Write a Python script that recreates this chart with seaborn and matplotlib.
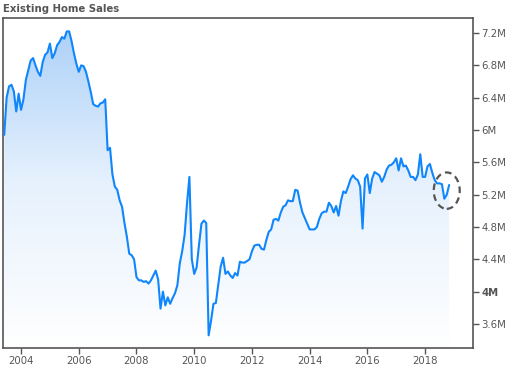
import numpy as np
import pandas as pd
import seaborn as sns
import matplotlib.pyplot as plt
from matplotlib.patches import Ellipse
from matplotlib.colors import LinearSegmentedColormap

# monthly existing home sales (millions, SAAR), Jun 2003 - Nov 2018
sales = [
    5.94, 6.40, 6.54, 6.56, 6.48, 6.23, 6.45, 6.25, 6.38, 6.62,
    6.74, 6.86, 6.89, 6.80, 6.72, 6.67, 6.84, 6.93, 6.96, 7.07,
    6.89, 6.95, 7.05, 7.09, 7.15, 7.13, 7.22, 7.22, 7.10, 6.95,
    6.82, 6.72, 6.80, 6.79, 6.72, 6.60, 6.47, 6.32, 6.30, 6.29,
    6.33, 6.34, 6.38, 5.75, 5.78, 5.45, 5.30, 5.26, 5.13, 5.05,
    4.85, 4.68, 4.47, 4.45, 4.40, 4.18, 4.14, 4.14, 4.12, 4.13,
    4.10, 4.14, 4.20, 4.26, 4.15, 3.79, 4.00, 3.83, 3.93, 3.85,
    3.92, 3.98, 4.08, 4.35, 4.50, 4.70, 5.09, 5.42, 4.40, 4.22,
    4.30, 4.58, 4.84, 4.88, 4.85, 3.46, 3.64, 3.85, 3.86, 4.08,
    4.31, 4.42, 4.22, 4.25, 4.20, 4.17, 4.23, 4.20, 4.37, 4.36,
    4.36, 4.38, 4.40, 4.50, 4.57, 4.58, 4.58, 4.53, 4.52, 4.64,
    4.74, 4.77, 4.89, 4.90, 4.88, 4.98, 5.05, 5.07, 5.13, 5.12,
    5.12, 5.26, 5.25, 5.10, 4.98, 4.91, 4.84, 4.77, 4.77, 4.77,
    4.80, 4.90, 4.97, 4.99, 4.99, 5.10, 5.06, 4.98, 5.06, 4.94,
    5.12, 5.24, 5.22, 5.30, 5.39, 5.44, 5.40, 5.38, 5.30, 4.78,
    5.40, 5.45, 5.22, 5.40, 5.48, 5.46, 5.44, 5.36, 5.42, 5.51,
    5.56, 5.57, 5.60, 5.65, 5.50, 5.65, 5.55, 5.56, 5.50, 5.42,
    5.42, 5.38, 5.45, 5.70, 5.42, 5.42, 5.55, 5.58, 5.47, 5.38,
    5.34, 5.34, 5.33, 5.15, 5.20, 5.32,
]
start_year, start_month = 2003, 6
years = [2004, 2006, 2008, 2010, 2012, 2014, 2016, 2018]
yticks = [3.6, 4.0, 4.4, 4.8, 5.2, 5.6, 6.0, 6.4, 6.8, 7.2]

t = start_year + (start_month - 1) / 12 + np.arange(len(sales)) / 12
df = pd.DataFrame({"t": t, "sales": sales})

sns.set_style("white")
plt.rcParams['font.family'] = ['DejaVu Sans']

fig = plt.figure(figsize=(5.09, 3.66), dpi=100)
ax = fig.add_axes([3 / 509, 1 - 348 / 366, 470 / 509, 330 / 366])

ylo, yhi = 3.303, 7.386
xlo, xhi = t[0] - 0.042, 2019.66

# gradient fill under the line
cmap = LinearSegmentedColormap.from_list("fade", ["#ffffff", "#e6f1fd", "#a9cff8"])
grad = np.linspace(0, 1, 256).reshape(-1, 1)
poly = ax.fill_between(df["t"], df["sales"], ylo, color="none", lw=0)
img = ax.imshow(grad, cmap=cmap, aspect="auto", origin="lower",
                extent=[xlo, xhi, ylo, yhi], zorder=1)
img.set_clip_path(poly.get_paths()[0], transform=ax.transData)

sns.lineplot(data=df, x="t", y="sales", ax=ax, color="#0f86fb", lw=1.5, zorder=3)

# dashed ellipse round the latest readings
cx = df["t"].iloc[-2]
cy = df["sales"].iloc[-4:].mean()
ax.add_patch(Ellipse((cx, cy), 0.9, 0.45, fill=False, ec="#555555",
                     ls=(0, (3, 2)), lw=1.6, zorder=4))

ax.set_xlim(xlo, xhi)
ax.set_ylim(ylo, yhi)
ax.set_xlabel("")
ax.set_ylabel("")

ax.set_xticks(years)
ax.set_xticklabels([str(y) for y in years])
ax.yaxis.tick_right()
ax.set_yticks(yticks)
ax.set_yticklabels([f"{v:g}M" for v in yticks])
for lab in ax.get_yticklabels():
    if lab.get_text() == "4M":
        lab.set_fontweight("bold")

ax.tick_params(axis="both", which="both", length=4, width=1, color="#555555",
               labelcolor="#555555", labelsize=7.3, pad=2)
ax.tick_params(axis="y", left=False, right=True)
ax.tick_params(axis="x", bottom=True)

for s in ax.spines.values():
    s.set_visible(True)
    s.set_color("#555555")
    s.set_linewidth(1.2)

fig.text(3 / 509, 1 - 9 / 366, "Existing Home Sales", fontsize=7.3, fontweight="bold",
         color="#555555", ha="left", va="center")

fig.savefig("out.png", dpi=100)
